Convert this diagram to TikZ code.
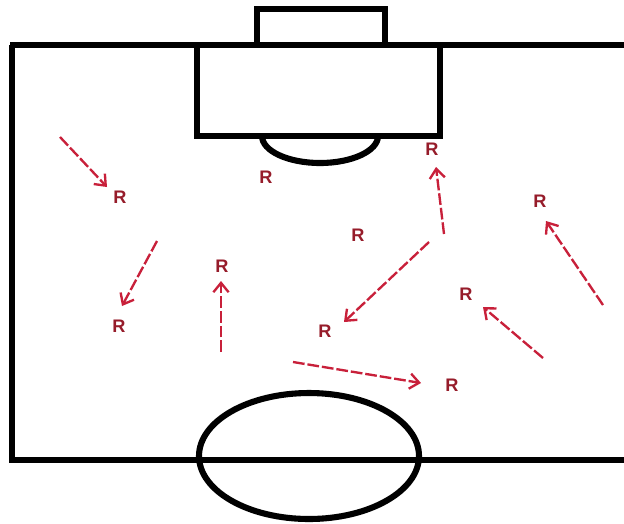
\documentclass[tikz,border=0pt]{standalone}
\usepackage{fontspec}
\setsansfont{Liberation Sans}
\usetikzlibrary{arrows.meta,positioning}
\definecolor{rtext}{RGB}{150,28,42}
\definecolor{rarrow}{RGB}{200,32,58}
\tikzset{every picture/.style={line width=0.75pt}}

\begin{document}
\begin{tikzpicture}[x=0.03cm, y=-0.03cm,
    pitch/.style={line width=5.2pt, black},
    run/.style={rarrow, line width=2pt, dash pattern=on 10pt off 2.5pt,
        -{Straight Barb[length=8pt, width=13pt]}},
    rlabel/.style={text=rtext, inner sep=0pt,
        font=\sffamily\bfseries\fontsize{15.5}{15.5}\selectfont}]
    \useasboundingbox (0,0) rectangle (624,523);
    % 场地边线
    \draw[pitch] (10,45) -- (624,45);
    \draw[pitch] (12,45) -- (12,460) -- (624,460);
    % 球门与禁区
    \draw[pitch] (257,45) -- (257,9) -- (385,9) -- (385,45);
    \draw[pitch] (197,45) -- (197,136) -- (440,136) -- (440,45);
    \draw[pitch] (262,136) arc[start angle=180, end angle=0, x radius=58, y radius=27];
    % 中圈
    \draw[pitch] (309,456) ellipse [x radius=110, y radius=63];
    % 球员
    \node[rlabel] (r1) at (120,197) {R};
    \node[rlabel] (r2) at (266,177) {R};
    \node[rlabel] (r3) at (432,149) {R};
    \node[rlabel] (r4) at (358,235) {R};
    \node[rlabel] (r5) at (540,201) {R};
    \node[rlabel] (r6) at (222,266) {R};
    \node[rlabel] (r7) at (119,326) {R};
    \node[rlabel] (r8) at (325,331) {R};
    \node[rlabel] (r9) at (466,294) {R};
    \node[rlabel] (r10) at (452,385) {R};
    % 跑位
    \coordinate (a1) at (60,137);  \coordinate (b1) at (107,187);
    \coordinate (a2) at (157,241); \coordinate (b2) at (122,306);
    \coordinate (a3) at (221,352); \coordinate (b3) at (221,281);
    \coordinate (a4) at (444,234); \coordinate (b4) at (436,167);
    \coordinate (a5) at (429,242); \coordinate (b5) at (344,322);
    \coordinate (a6) at (603,305); \coordinate (b6) at (546,221);
    \coordinate (a7) at (543,358); \coordinate (b7) at (483,307);
    \coordinate (a8) at (293,362); \coordinate (b8) at (421,383);
    \foreach \i in {1,...,8}
        \draw[run] (a\i) -- (b\i);
\end{tikzpicture}
\end{document}
